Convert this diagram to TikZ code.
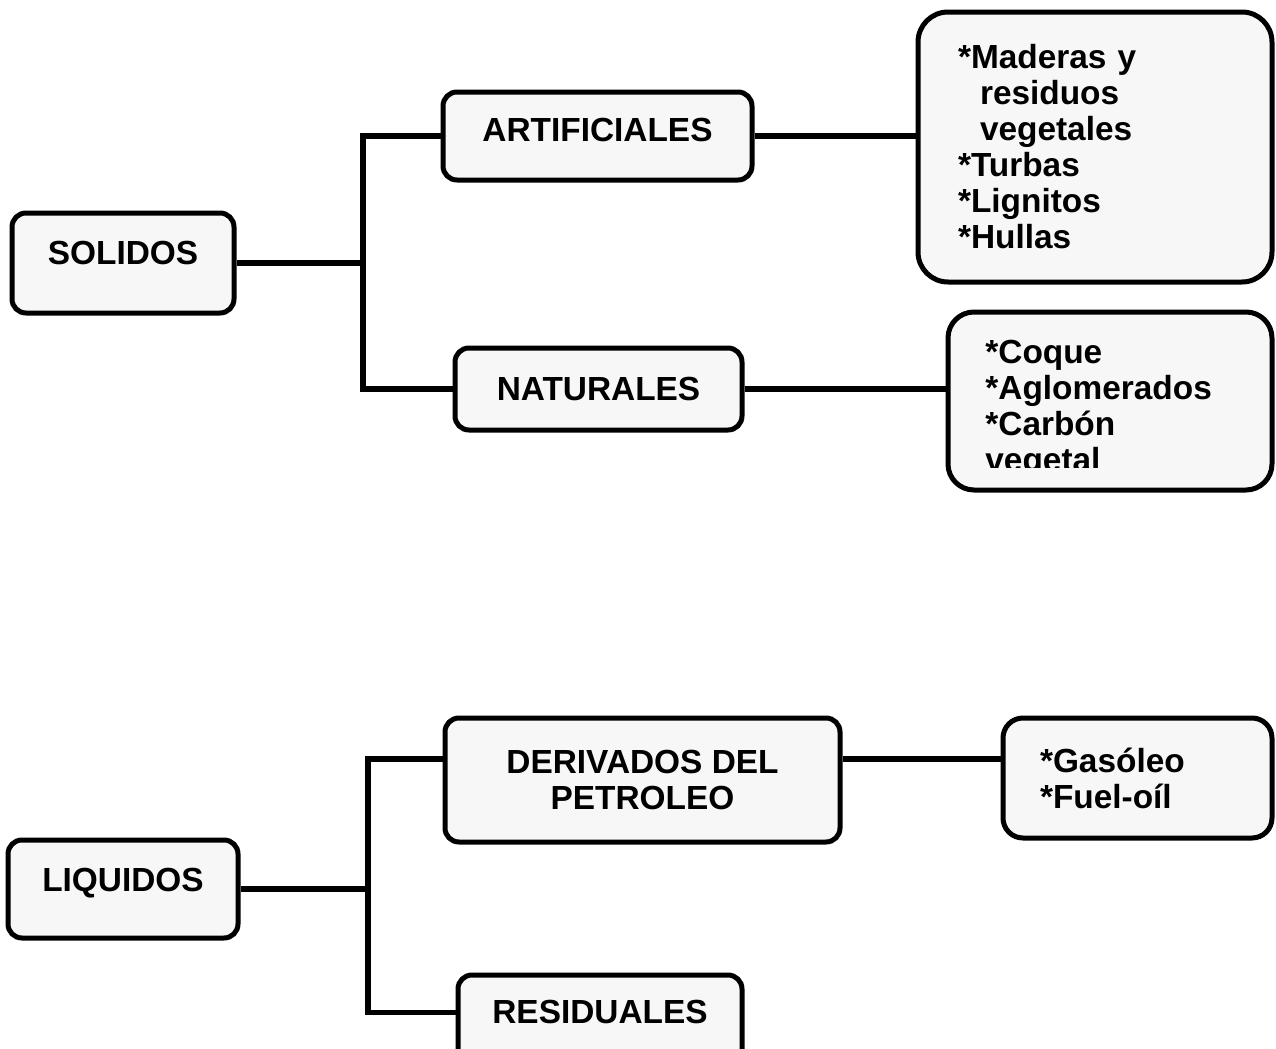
\documentclass[tikz,border=0pt]{standalone}
\usepackage{fontspec}
\setmainfont{Liberation Sans}
\usepackage{tikz}
\definecolor{boxgray}{gray}{.97}
\tikzset{
  box/.style={draw, line width=2.5pt, rounded corners=7pt, fill=boxgray,
              inner sep=0pt, font=\fontsize{16.7pt}{18pt}\selectfont\bfseries},
  listbox/.style={box, align=left, rounded corners=13pt},
  items/.style={inner sep=0pt, align=left, font=\fontsize{16.7pt}{18pt}\selectfont\bfseries},
  link/.style={line width=2.6pt},
}

\begin{document}
\begin{tikzpicture}[x=0.5pt,y=-0.5pt]
  \useasboundingbox (0,0) rectangle (1276,1049);

  % solidos
  \node[box, minimum width=111pt, minimum height=50pt, text depth=10pt] (sol) at (123,263) {SOLIDOS};
  \node[box, minimum width=154.5pt, minimum height=44pt, text depth=6pt] (art) at (597.5,136) {ARTIFICIALES};
  \node[box, minimum width=143.5pt, minimum height=41pt] (nat) at (598.5,389) {NATURALES};
  \node[listbox, minimum width=177pt, minimum height=135pt, text width=137pt,
        inner xsep=20pt, rounded corners=15pt] (artlist) at (1095,147)
       {*Maderas y\\\hspace*{11pt}residuos\\\hspace*{11pt}vegetales\\{}*Turbas\\{}*Lignitos\\{}*Hullas};
  \node[listbox, minimum width=162pt, minimum height=89pt] (natlist) at (1110,401) {};
  \begin{scope}
    \clip (natlist.north west) rectangle (1272,467); % last line is cut off
    \node[items, anchor=north west] (natitems) at (985,340)
         {*Coque\\{}*Aglomerados\\{}*Carbón\\vegetal};
  \end{scope}

  \coordinate (sbus) at (363,263);
  \draw[link] (sol.east) -- (sbus);
  \draw[link] (art.west) -| (sbus) |- (nat.west);
  \draw[link] (art.east) -- (art.east -| artlist.west);
  \draw[link] (nat.east) -- (nat.east -| natlist.west);

  % liquidos
  \node[box, minimum width=115pt, minimum height=49pt, text depth=9pt] (liq) at (123,889) {LIQUIDOS};
  \node[box, align=center, minimum width=197.5pt, minimum height=62pt] (der) at (642.5,780)
       {DERIVADOS DEL\\PETROLEO};
  \node[listbox, minimum width=134.5pt, minimum height=60pt, text width=97.5pt,
        inner xsep=18.5pt, rounded corners=10pt] (gas) at (1137.5,778) {*Gasóleo\\{}*Fuel-oíl};
  \node[box, minimum width=142pt, minimum height=45pt, text depth=8pt] (res) at (600,1020) {RESIDUALES};

  \coordinate (lbus) at (368,887);
  \draw[link] (liq.east) -- (liq.east -| lbus);
  \draw[link] (der.174) -| (lbus) |- (res.177);
  \draw[link] (der.6) -- (der.6 -| gas.west);
\end{tikzpicture}
\end{document}
